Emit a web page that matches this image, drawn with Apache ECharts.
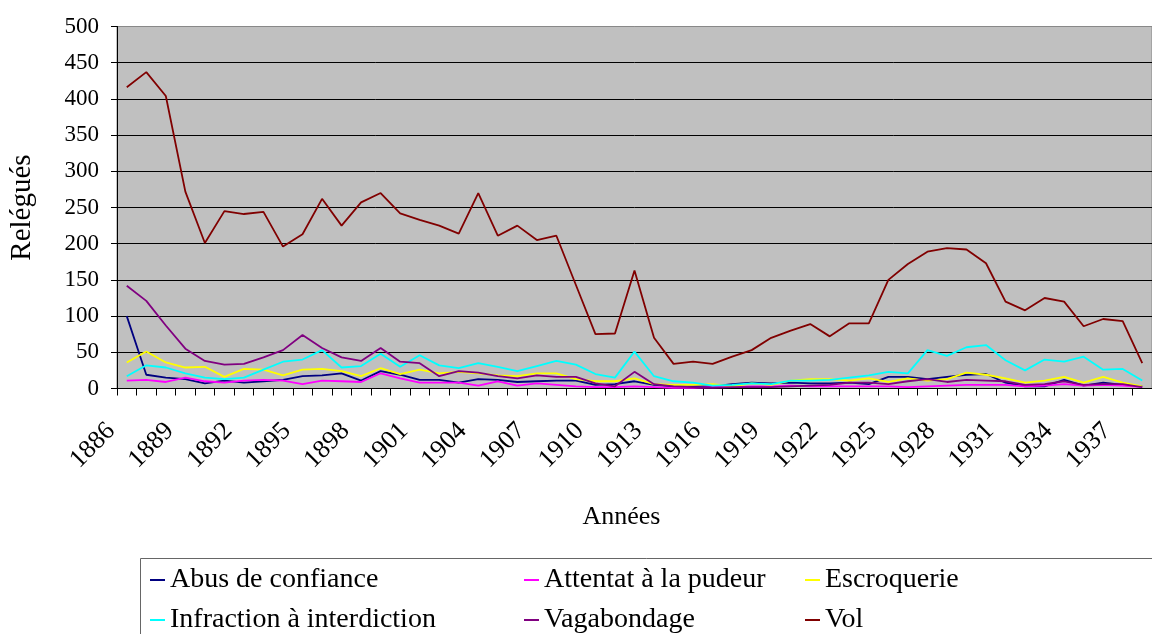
<!DOCTYPE html>
<html>
<head>
<meta charset="utf-8">
<script src="https://cdn.jsdelivr.net/npm/echarts@6/dist/echarts.min.js"></script>
<style>
	html, body { margin: 0; padding: 0; background: #fff; }
	#chart { width: 1152px; height: 634px; }
</style>
</head>
<body>
<div id="chart"></div>
<script>
// années 1886 - 1938
const years = []
for (let y = 1886; y <= 1938; y++) years.push(String(y))

const abusConfiance = [100, 19, 15, 13, 7, 11, 8, 10, 12, 17, 18, 21, 11, 24, 19, 12, 12, 8, 13, 12, 9, 10, 11, 11, 5, 6, 10, 5, 3, 3, 3, 6, 8, 7, 8, 7, 7, 8, 6, 16, 16, 13, 16, 19, 20, 8, 3, 3, 12, 4, 8, 5, 3]
const attentatPudeur = [11, 12, 9, 15, 10, 8, 11, 12, 11, 6, 11, 10, 9, 21, 14, 8, 8, 8, 4, 10, 4, 7, 5, 3, 2, 2, 3, 2, 1, 1, 2, 2, 3, 3, 4, 3, 3, 3, 3, 3, 2, 3, 4, 5, 5, 5, 3, 4, 6, 4, 5, 4, 2]
const escroquerie = [36, 51, 36, 29, 30, 16, 27, 26, 18, 26, 27, 24, 17, 28, 20, 26, 21, 23, 21, 18, 17, 21, 21, 13, 10, 10, 14, 6, 5, 5, 6, 3, 7, 5, 11, 13, 13, 11, 14, 9, 14, 11, 13, 22, 19, 14, 8, 11, 16, 8, 16, 8, 3]
const infraction = [17, 32, 29, 21, 15, 13, 15, 26, 37, 40, 53, 29, 31, 48, 30, 46, 32, 28, 35, 30, 24, 31, 38, 33, 20, 15, 51, 17, 10, 8, 4, 5, 7, 6, 11, 11, 12, 15, 18, 23, 21, 53, 45, 57, 60, 39, 25, 40, 37, 44, 26, 27, 11]
const vagabondage = [142, 121, 87, 55, 38, 33, 34, 43, 53, 74, 56, 43, 38, 56, 37, 35, 17, 24, 22, 17, 14, 18, 16, 16, 7, 3, 23, 6, 3, 2, 1, 2, 2, 2, 3, 4, 5, 8, 8, 6, 10, 13, 9, 12, 11, 10, 5, 6, 10, 5, 6, 6, 2]
const vol = [416, 437, 404, 272, 201, 245, 241, 244, 196, 213, 262, 225, 257, 270, 242, 233, 225, 214, 270, 211, 225, 205, 211, 143, 75, 76, 163, 70, 34, 37, 34, 44, 53, 70, 80, 89, 72, 90, 90, 150, 172, 189, 194, 192, 173, 120, 108, 125, 120, 86, 96, 93, 35]

const names = ['Abus de confiance', 'Attentat à la pudeur', 'Escroquerie', 'Infraction à interdiction', 'Vagabondage', 'Vol']
const colors = ['#000080', '#FF00FF', '#FFFF00', '#00FFFF', '#800080', '#800000']
const values = [abusConfiance, attentatPudeur, escroquerie, infraction, vagabondage, vol]

const font = '"Liberation Serif", "Times New Roman", serif'

const chart = echarts.init(document.getElementById('chart'))

const legendBase = {
	orient: 'vertical',
	top: 561,
	height: 100,
	itemWidth: 15,
	itemHeight: 2,
	itemGap: 12,
	icon: 'rect',
	textStyle: {
		fontFamily: font,
		fontSize: 28,
		color: '#000',
		lineHeight: 28
	}
}

const option = {
	animation: false,
	backgroundColor: '#fff',
	color: colors,
	grid: {
		left: 117,
		top: 26.5,
		right: -5,
		bottom: 245.5,
		show: true,
		backgroundColor: '#C0C0C0',
		borderColor: '#888',
		borderWidth: 1
	},
	legend: [
		Object.assign({}, legendBase, { left: 145, data: [names[0], names[3]] }),
		Object.assign({}, legendBase, { left: 519, data: [names[1], names[4]] }),
		Object.assign({}, legendBase, { left: 800, data: [names[2], names[5]] })
	],
	graphic: [{
		type: 'rect',
		shape: { x: 140.5, y: 558.5, width: 1100, height: 120 },
		style: { fill: 'none', stroke: '#666', lineWidth: 1 },
		silent: true
	}],
	xAxis: {
		type: 'category',
		data: years,
		boundaryGap: true,
		name: 'Années',
		nameLocation: 'middle',
		nameGap: 116,
		nameTextStyle: {
			fontFamily: font,
			fontSize: 26,
			color: '#000',
			padding: [0, 26, 0, 0]
		},
		axisLine: { lineStyle: { color: '#000', width: 1 } },
		axisTick: { show: true, interval: 0, length: 7, lineStyle: { color: '#000' } },
		axisLabel: {
			interval: 2,
			rotate: 45,
			margin: 23,
			padding: [0, 22, 0, 0],
			fontFamily: font,
			fontSize: 26,
			color: '#000'
		},
		splitLine: { show: false }
	},
	yAxis: {
		type: 'value',
		min: 0,
		max: 500,
		interval: 50,
		name: 'Relégués',
		nameLocation: 'middle',
		nameGap: 80,
		nameRotate: 90,
		nameTextStyle: {
			fontFamily: font,
			fontSize: 29,
			color: '#000'
		},
		axisLine: { show: true, lineStyle: { color: '#000', width: 1 } },
		axisTick: { show: true, length: 6, lineStyle: { color: '#000' } },
		axisLabel: {
			margin: 18,
			fontFamily: font,
			fontSize: 23,
			color: '#000'
		},
		splitLine: {
			lineStyle: {
				color: ['#000', '#000', '#000', '#000', '#000', '#000', '#000', '#000', '#000', '#000', '#888'],
				width: 1
			}
		}
	},
	series: names.map((name, i) => ({
		name: name,
		type: 'line',
		data: values[i],
		symbol: 'none',
		lineStyle: { width: 1.8, color: colors[i] },
		itemStyle: { color: colors[i] }
	}))
}

chart.setOption(option)
</script>
</body>
</html>
